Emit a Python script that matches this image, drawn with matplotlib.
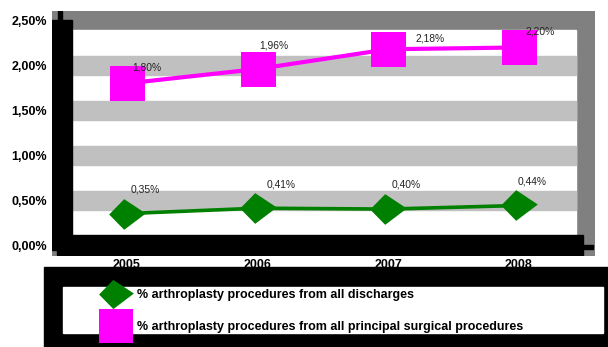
import matplotlib.pyplot as plt
from matplotlib.patches import Rectangle

plt.rcParams['font.family'] = ['Liberation Sans', 'DejaVu Sans']

years = ['2005', '2006', '2007', '2008']
discharges = [0.35, 0.41, 0.40, 0.44]
surgical = [1.80, 1.96, 2.18, 2.20]
yticks = [0.0, 0.5, 1.0, 1.5, 2.0, 2.5]
leg_labels = ['% arthroplasty procedures from all discharges',
              '% arthroplasty procedures from all principal surgical procedures']

# label offsets (pixels, right / up)
off_surg = [(19.5, 16), (16.5, 24), (42, 11), (22, 16)]
off_dis = [(18.5, 24.5), (23.5, 24), (18, 25), (14, 23.5)]


def pct(v):
    return ('%.2f%%' % v).replace('.', ',')


fig = plt.figure(figsize=(6.08, 3.47), dpi=100)
ax = fig.add_axes([52 / 608, 1 - 256 / 347, 543 / 608, 245 / 347])
ax.set_xlim(-0.575, 3.586)
ax.set_ylim(-0.1225, 2.606)
ax.set_facecolor('#808080')
for s in ax.spines.values():
    s.set_visible(False)

# walls
ax.add_patch(Rectangle((-0.421, 0.111), 3.861, 2.283, color='white', zorder=0.5))
for v in yticks[1:-1]:
    ax.add_patch(Rectangle((-0.421, v - 0.105), 3.861, 0.21, color='#c0c0c0', zorder=0.6))
ax.add_patch(Rectangle((-0.575, -0.056), 0.154, 2.561, color='black', zorder=1))
ax.add_patch(Rectangle((-0.536, -0.111), 4.03, 0.222, color='black', zorder=1))
ax.add_patch(Rectangle((-0.531, 2.5), 0.033, 0.11, color='black', zorder=1))
ax.add_patch(Rectangle((3.49, -0.045), 0.08, 0.045, color='black', zorder=1))

x = range(len(years))
diamond = [(-18.3, 0), (-3.3, 15.3), (18.3, 1), (-3.3, -15.3), (-18.3, 0)]
l1, = ax.plot(x, discharges, color='#008000', lw=2.6, marker=diamond,
              markersize=26.4, markeredgewidth=0, zorder=3)
l2, = ax.plot(x, surgical, color='#ff00ff', lw=3, marker='s',
              markersize=25.2, markeredgewidth=0, zorder=3)

for i, v in enumerate(surgical):
    ax.annotate(pct(v), (i, v), xytext=(off_surg[i][0] * 0.72, off_surg[i][1] * 0.72),
                textcoords='offset points', ha='center', va='center',
                fontsize=7.4, color='#222222', zorder=4)
for i, v in enumerate(discharges):
    ax.annotate(pct(v), (i, v), xytext=(off_dis[i][0] * 0.72, off_dis[i][1] * 0.72),
                textcoords='offset points', ha='center', va='center',
                fontsize=7.4, color='#222222', zorder=4)

ax.set_xticks(list(x))
ax.set_xticklabels(years, fontsize=9, fontweight='bold')
ax.set_yticks(yticks)
ax.set_yticklabels([pct(v) for v in yticks], fontsize=9, fontweight='bold')
ax.tick_params(axis='y', length=0, pad=3.6)
ax.tick_params(axis='x', length=0, pad=2)

# legend box
fig.add_artist(Rectangle((44 / 608, 0), 564 / 608, 80 / 347,
                         transform=fig.transFigure, color='black', zorder=0))
fig.add_artist(Rectangle((63 / 608, 1 - 333 / 347), 540 / 608, 46 / 347,
                         transform=fig.transFigure, color='white', zorder=0.5))
fig.legend([l1, l2], leg_labels, loc='center left', bbox_to_anchor=(0.182, 0.104),
           frameon=False, prop={'size': 9, 'weight': 'bold'}, handlelength=0.8,
           handletextpad=1.3, labelspacing=1.6, borderpad=0, borderaxespad=0,
           numpoints=1, markerscale=0.95)

fig.savefig('out.png', dpi=100)
